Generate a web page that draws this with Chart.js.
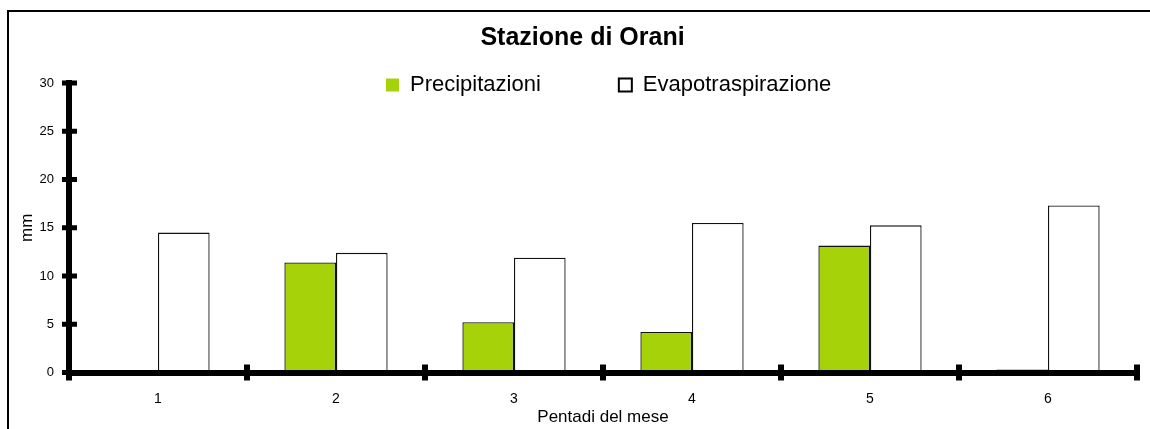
<!DOCTYPE html>
<html>
<head>
<meta charset="utf-8">
<title>Stazione di Orani</title>
<script src="https://cdn.jsdelivr.net/npm/chart.js"></script>
<style>
  html, body { margin: 0; padding: 0; background: #fff; }
  canvas { display: block; }
</style>
</head>
<body>
<canvas id="chart" width="1150" height="429"></canvas>
<script>
// pentadi del mese e valori in mm
const pentadi = ['1', '2', '3', '4', '5', '6'];
const precipitazioni = [0, 11.4, 5.2, 4.2, 13.15, 0.3];
const evapotraspirazione = [14.5, 12.4, 11.9, 15.5, 15.25, 17.3];

Chart.defaults.font.family = '"Liberation Sans", Arial, sans-serif';
Chart.defaults.color = '#000';

// white background and the outer frame
const frame = {
    id: 'frame',
    beforeDraw(chart) {
        const ctx = chart.ctx;
        ctx.save();
        ctx.fillStyle = '#fff';
        ctx.fillRect(0, 0, chart.width, chart.height);
        ctx.strokeStyle = '#000';
        ctx.lineWidth = 2;
        ctx.strokeRect(8, 11, chart.width + 20, chart.height + 20);
        ctx.restore();
    }
};

// title centred on the frame, legend row laid over the top of the plot
const placeBlocks = {
    id: 'placeBlocks',
    afterLayout(chart) {
        chart.titleBlock.left = 28;
    },
    beforeDraw(chart) {
        const legend = chart.legend;
        legend.left = 308;
        legend.right = chart.width;
        legend.top = -4;
        legend.bottom = 130;
        legend.width = legend.right - legend.left;
        legend.height = legend.bottom - legend.top;
    }
};

// thick tick marks crossing the axes
const axisMarks = {
    id: 'axisMarks',
    afterDraw(chart) {
        const { ctx, chartArea, scales: { x, y } } = chart;
        ctx.save();
        ctx.fillStyle = '#000';
        y.ticks.forEach(t => {
            const py = y.getPixelForValue(t.value);
            ctx.fillRect(chartArea.left - 7, py - 2.5, 15, 5);
        });
        const step = x.getPixelForValue(1) - x.getPixelForValue(0);
        for (let i = 0; i <= pentadi.length; i++) {
            const px = x.getPixelForValue(0) + (i - 0.5) * step;
            ctx.fillRect(px - 3, chartArea.bottom - 8, 6, 16);
        }
        ctx.restore();
    }
};

const ctx = document.getElementById('chart').getContext('2d');
new Chart(ctx, {
    type: 'bar',
    data: {
        labels: pentadi,
        datasets: [
            {
                label: 'Precipitazioni',
                data: precipitazioni,
                backgroundColor: '#a6d20a',
                borderColor: '#111',
                borderWidth: 1.3
            },
            {
                label: 'Evapotraspirazione',
                data: evapotraspirazione,
                backgroundColor: '#ffffff',
                borderColor: '#111',
                borderWidth: 1.3
            }
        ]
    },
    options: {
        responsive: false,
        animation: false,
        events: [],
        categoryPercentage: 0.58,
        barPercentage: 1,
        layout: { padding: { left: 0, right: 13, top: 0, bottom: 0 } },
        plugins: {
            title: {
                display: true,
                text: 'Stazione di Orani',
                font: { size: 25, weight: 'bold' },
                padding: { top: 23, bottom: 29 }
            },
            legend: {
                position: 'top',
                align: 'start',
                maxHeight: 1,
                labels: {
                    font: { size: 22 },
                    boxWidth: 13,
                    boxHeight: 13,
                    padding: 78,
                    generateLabels(chart) {
                        const items = Chart.defaults.plugins.legend.labels.generateLabels(chart);
                        items[0].lineWidth = 0;
                        items[1].lineWidth = 2;
                        items[1].strokeStyle = '#000';
                        return items;
                    }
                }
            },
            tooltip: { enabled: false }
        },
        scales: {
            x: {
                grid: { display: false, drawTicks: false },
                border: { display: true, color: '#000', width: 6, z: 1 },
                ticks: { padding: 18, font: { size: 14 } },
                title: {
                    display: true,
                    text: 'Pentadi del mese',
                    font: { size: 17 },
                    padding: { top: 0, bottom: 1 }
                },
                afterFit(scale) { scale.height = 56.5; }
            },
            y: {
                min: 0,
                max: 30,
                ticks: { stepSize: 5, padding: 15, font: { size: 13 } },
                grid: { display: false, drawTicks: false },
                border: { display: true, color: '#000', width: 6, z: 1 },
                title: {
                    display: true,
                    text: 'mm',
                    font: { size: 17 },
                    padding: { top: 17, bottom: 0 }
                },
                afterFit(scale) { scale.width = 69; }
            }
        }
    },
    plugins: [frame, placeBlocks, axisMarks]
});
</script>
</body>
</html>
